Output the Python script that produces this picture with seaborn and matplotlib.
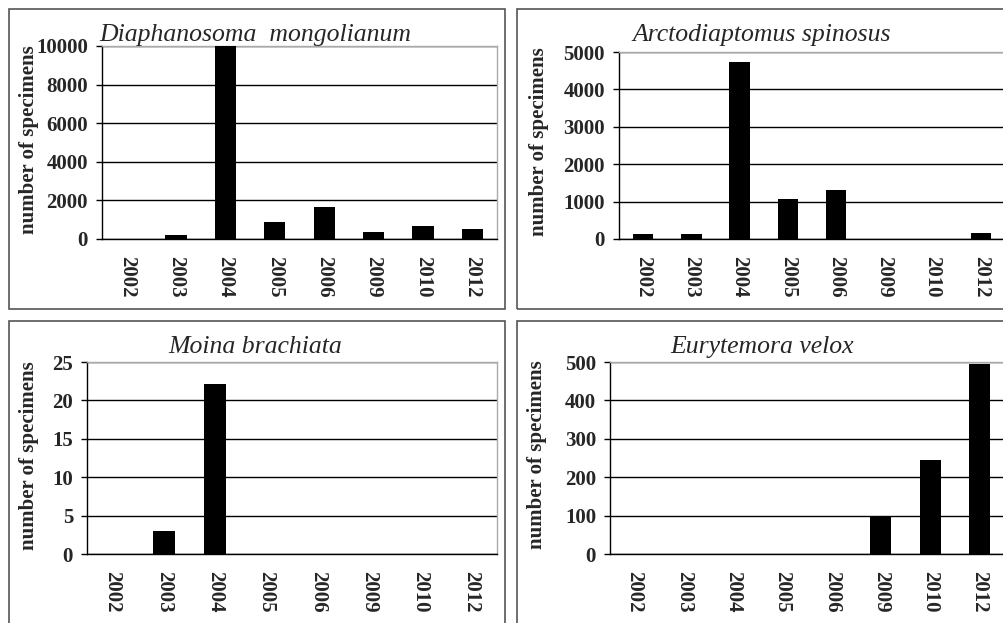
import matplotlib.pyplot as plt
import matplotlib.patches as patches
import numpy as np
import seaborn as sns

sns.set_style("white")
plt.rcParams['font.family'] = ['Liberation Serif', 'DejaVu Serif']

W, H = 1004, 623

years = ['2002', '2003', '2004', '2005', '2006', '2009', '2010', '2012']
diaphanosoma = [0, 200, 10000, 900, 1650, 380, 650, 500]
arctodiaptomus = [130, 130, 4720, 1080, 1320, 0, 0, 170]
moina = [0, 3, 22.1, 0, 0, 0, 0, 0]
eurytemora = [0, 0, 0, 0, 0, 100, 245, 495]

titles = ['Diaphanosoma  mongolianum', 'Arctodiaptomus spinosus',
          'Moina brachiata', 'Eurytemora velox']
series = [diaphanosoma, arctodiaptomus, moina, eurytemora]
y_max = [10000, 5000, 25, 500]
y_step = [2000, 1000, 5, 100]

# layout in pixels: axes (left, top, right, bottom), title centre, ylabel centre, panel box
axes_px = [(102, 46, 497, 239), (619, 52, 1005, 239),
           (87, 362, 497, 554), (610, 362, 1004, 554)]
title_px = [(255, 35), (762, 35), (255, 347), (762, 347)]
ylabel_px = [(29, 140), (539, 142), (29, 456), (537, 455)]
box_px = [(9, 9, 505, 309), (517, 9, 1012, 309),
          (9, 321, 505, 632), (517, 321, 1012, 632)]


def fig_rect(l, t, r, b):
    return [l / W, 1 - b / H, (r - l) / W, (b - t) / H]


fig = plt.figure(figsize=(W / 100, H / 100), dpi=100)

for i in range(4):
    l, t, r, b = box_px[i]
    fig.add_artist(patches.Rectangle((l / W, 1 - b / H), (r - l) / W, (b - t) / H,
                                     transform=fig.transFigure, fill=False,
                                     edgecolor='#555555', lw=1.2))

    ax = fig.add_axes(fig_rect(*axes_px[i]))
    sns.barplot(x=years, y=series[i], color='black', width=0.43,
                saturation=1, linewidth=0, ax=ax, zorder=3)
    ax.set_xlim(-0.5, 7.5)
    ax.set_ylim(0, y_max[i])
    ticks = np.arange(0, y_max[i] + 1, y_step[i])
    ax.set_yticks(ticks)
    ax.set_yticklabels([str(int(v)) for v in ticks], fontsize=15, fontweight='bold')
    ax.set_xticks(range(len(years)))
    ax.set_xticklabels(years, rotation=-90, fontsize=15, fontweight='bold')
    ax.set_xticks(np.arange(-0.5, 8, 1), minor=True)
    ax.tick_params(axis='x', which='major', length=0, pad=12)
    ax.tick_params(axis='x', which='minor', length=5, width=1, direction='out', color='black')
    ax.tick_params(axis='y', length=4, width=1, direction='out', pad=6, color='black', left=True)

    ax.set_axisbelow(True)
    ax.yaxis.grid(True, color='black', lw=1)
    ax.xaxis.grid(False)
    for side in ['left', 'bottom']:
        ax.spines[side].set_color('black')
        ax.spines[side].set_linewidth(1)
    for side in ['top', 'right']:
        ax.spines[side].set_color('#aaaaaa')
        ax.spines[side].set_linewidth(1)
    ax.set_xlabel('')
    ax.set_ylabel('')

    tx, ty = title_px[i]
    fig.text(tx / W, 1 - ty / H, titles[i], ha='center', va='center',
             fontsize=18.5, fontstyle='italic')
    yx, yy = ylabel_px[i]
    fig.text(yx / W, 1 - yy / H, 'number of specimens', ha='center', va='center',
             rotation=90, fontsize=15, fontweight='bold')

fig.savefig('out.png', dpi=100, facecolor='white')
